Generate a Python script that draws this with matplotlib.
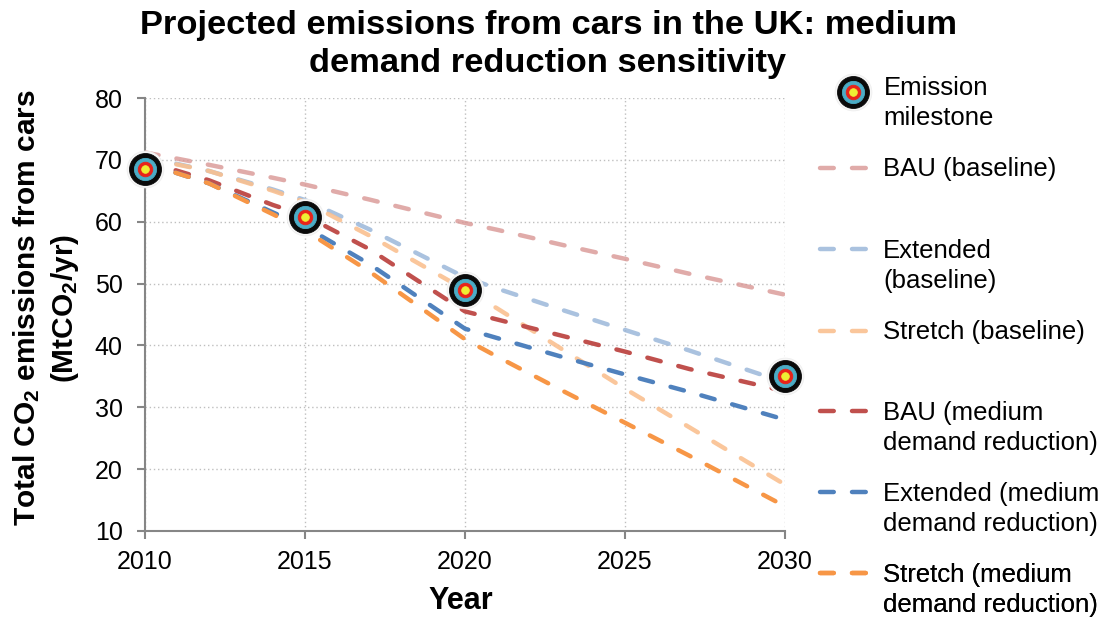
import matplotlib
matplotlib.use("Agg")
import matplotlib.pyplot as plt
from matplotlib.lines import Line2D
from matplotlib.legend_handler import HandlerTuple, HandlerLine2D
from matplotlib.transforms import Affine2D

plt.rcParams['font.family'] = ['Liberation Sans', 'DejaVu Sans']
plt.rcParams['mathtext.fontset'] = 'custom'
plt.rcParams['mathtext.rm'] = 'Liberation Sans'
plt.rcParams['mathtext.bf'] = 'Liberation Sans:bold'

years = [2010, 2012, 2014, 2015, 2017, 2020, 2021, 2023, 2025, 2027, 2030]
bau_base = [71.2, 69.2, 67.1, 66.0, 63.6, 59.8, 58.7, 56.3, 54.0, 51.6, 48.2]
ext_base = [70.5, 68.2, 65.2, 63.5, 58.8, 51.0, 49.2, 45.8, 42.5, 39.2, 34.0]
str_base = [70.3, 68.2, 65.0, 63.2, 57.8, 49.0, 46.0, 39.5, 33.0, 26.8, 17.5]
bau_med = [69.8, 66.7, 62.7, 61.0, 55.6, 45.5, 44.2, 41.6, 39.0, 36.2, 32.6]
ext_med = [69.5, 66.2, 61.5, 59.2, 53.2, 42.7, 41.2, 38.2, 35.3, 32.5, 28.0]
str_med = [69.5, 66.2, 61.2, 58.6, 52.0, 41.0, 38.2, 32.8, 27.5, 22.2, 14.0]

milestone_years = [2010, 2015, 2020, 2030]
milestone_vals = [68.6, 60.8, 49.0, 35.0]

title = "Projected emissions from cars in the UK: medium\ndemand reduction sensitivity"
xlabel = "Year"
ylabel = "Total CO$\\mathbf{_2}$ emissions from cars\n(MtCO$\\mathbf{_2}$/yr)"
xticks = [2010, 2015, 2020, 2025, 2030]
yticks = [10, 20, 30, 40, 50, 60, 70, 80]

series = [
    (bau_base, "BAU (baseline)", "#D99694", 0.8, 169),
    (ext_base, "Extended\n(baseline)", "#95B3D7", 0.8, 266),
    (str_base, "Stretch (baseline)", "#FAC090", 0.9, 332),
    (bau_med, "BAU (medium\ndemand reduction)", "#C0504D", 1.0, 428),
    (ext_med, "Extended (medium\ndemand reduction)", "#4F81BD", 1.0, 509),
    (str_med, "Stretch (medium\ndemand reduction)", "#F79646", 1.0, 590),
]
rings = [(26.5, "#F7F7F7", "#EEEEEE"), (23, "#0A0A0A", "#0A0A0A"), (16, "#4BACC6", "#4BACC6"),
         (10.5, "#E8231A", "#E8231A"), (5.5, "#EEEE33", "#EEEE33")]


class RaisedLine(HandlerLine2D):
    def __init__(self, up, **kw):
        super().__init__(**kw)
        self.up = up

    def create_artists(self, legend, orig, xd, yd, w, h, fs, trans):
        return super().create_artists(legend, orig, xd, yd, w, h, fs,
                                       Affine2D().translate(0, self.up) + trans)


class RaisedTuple(HandlerTuple):
    def __init__(self, up, **kw):
        super().__init__(**kw)
        self.up = up

    def create_artists(self, legend, orig, xd, yd, w, h, fs, trans):
        return super().create_artists(legend, orig, xd, yd, w, h, fs,
                                       Affine2D().translate(0, self.up) + trans)


W, H = 1104, 617
fig = plt.figure(figsize=(W / 100, H / 100), dpi=100)
ax = fig.add_axes([145 / W, 1 - 531 / H, 640 / W, 433 / H])

dash = (3.1, 4.1)
handles = []
for vals, label, color, alpha, ypx in series:
    line, = ax.plot(years, vals, color=color, alpha=alpha, lw=3.2, dashes=dash,
                    dash_capstyle='round', zorder=3)
    handles.append((line, label, ypx))

for ms, fc, ec in rings:
    ax.plot(milestone_years, milestone_vals, ls='none', marker='o', ms=ms, mfc=fc, mec=ec,
            mew=0.6, clip_on=False, zorder=5)

ax.set_xlim(2010, 2030)
ax.set_ylim(10, 80)
ax.set_xticks(xticks)
ax.set_yticks(yticks)
ax.tick_params(axis='both', labelsize=18, color='#868686', width=1.5, length=6, direction='out')
ax.tick_params(axis='y', pad=10)
ax.tick_params(axis='x', length=6, pad=8)
ax.grid(True, color='#BFBFBF', ls=(0, (1, 2)), lw=1)
ax.set_axisbelow(True)
for s in ('top', 'right'):
    ax.spines[s].set_visible(False)
for s in ('left', 'bottom'):
    ax.spines[s].set_color('#868686')
    ax.spines[s].set_linewidth(1.5)

fig.text(548 / W, 1 - 44.5 / H, title, fontsize=24.8, fontweight='bold', ha='center', va='center', linespacing=1.27)
fig.text(461 / W, 1 - 601 / H, xlabel, fontsize=22, fontweight='bold', ha='center', va='center')
fig.text(46 / W, 1 - 308 / H, ylabel, fontsize=21.5, fontweight='bold', rotation=90, ha='center', va='center',
         multialignment='center', linespacing=1.3)

common = dict(loc='center left', frameon=False, fontsize=18.5, borderpad=0, borderaxespad=0,
              handlelength=1.99, handletextpad=0.47, bbox_transform=fig.transFigure)

proxy = tuple(Line2D([], [], ls='none', marker='o', ms=ms, mfc=fc, mec=ec, mew=0.6) for ms, fc, ec in rings)
leg = ax.legend([proxy], ["Emission\nmilestone"], bbox_to_anchor=(827 / W, 1 - 103 / H),
                handler_map={tuple: RaisedTuple(8.2, ndivide=1, pad=0)}, **{**common, 'handletextpad': 0.22})
leg.get_texts()[0].set_linespacing(1.28)
ax.add_artist(leg)
for line, label, ypx in handles:
    two_line = "\n" in label
    leg = ax.legend([line], [label], bbox_to_anchor=(820 / W, 1 - ypx / H),
                    handler_map={line: RaisedLine(12.8 if two_line else -0.7)}, **common)
    leg.get_texts()[0].set_linespacing(1.28)
    ax.add_artist(leg)

fig.savefig("out.png", dpi=100)
